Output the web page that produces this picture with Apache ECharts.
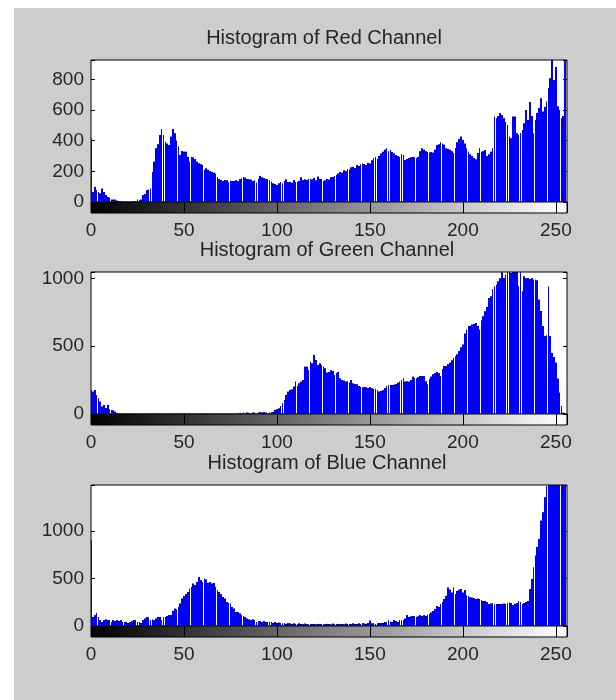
<!DOCTYPE html>
<html>
<head>
<meta charset="utf-8">
<title>RGB histograms</title>
<script src="https://cdn.jsdelivr.net/npm/echarts@6/dist/echarts.min.js"></script>
<style>
html, body { margin: 0; padding: 0; background: #fff; }
#frame { position: absolute; left: 14px; top: 8px; width: 602px; height: 692px; background: #cdcdcd; }
#chart { position: absolute; left: 0; top: 0; width: 616px; height: 700px; }
</style>
</head>
<body>
<div id="frame"></div>
<div id="chart"></div>
<script>
// panel titles
var titles = ['Histogram of Red Channel', 'Histogram of Green Channel', 'Histogram of Blue Channel'];

// pixel counts per intensity level 0..255
var redCounts = [
    414, 65, 98, 76, 65, 55, 87, 65, 44, 33, 28, 15, 15, 15, 8, 5,
    3, 2, 0, 0, 0, 0, 2, 3, 5, 15, 10, 15, 44, 50, 76, 80,
    87, 196, 262, 349, 375, 436, 475, 436, 392, 380, 370, 425, 475, 447, 400, 360,
    305, 331, 327, 327, 294, 262, 294, 290, 279, 262, 251, 245, 240, 207, 218, 210,
    200, 196, 190, 185, 163, 148, 142, 136, 142, 140, 131, 138, 136, 137, 140, 135,
    148, 153, 163, 158, 150, 147, 145, 135, 140, 125, 150, 170, 160, 155, 148, 150,
    140, 132, 120, 118, 109, 120, 131, 120, 137, 146, 128, 131, 125, 142, 131, 131,
    137, 159, 142, 146, 142, 150, 150, 146, 155, 140, 165, 150, 148, 135, 140, 150,
    145, 160, 163, 170, 175, 185, 196, 190, 205, 200, 215, 210, 225, 229, 220, 240,
    235, 245, 250, 248, 240, 255, 250, 270, 285, 294, 280, 300, 315, 327, 340, 349,
    330, 338, 325, 316, 305, 300, 294, 310, 305, 272, 280, 285, 290, 294, 290, 285,
    294, 330, 349, 340, 330, 325, 321, 325, 321, 340, 370, 375, 388, 380, 373, 349,
    345, 340, 330, 320, 350, 388, 410, 425, 403, 380, 349, 327, 310, 299, 285, 277,
    320, 349, 327, 330, 338, 299, 310, 327, 349, 556, 545, 560, 578, 565, 545, 520,
    501, 425, 414, 556, 556, 447, 436, 450, 468, 512, 600, 534, 650, 560, 447, 534,
    580, 611, 675, 589, 620, 654, 741, 806, 960, 795, 880, 622, 600, 545, 560, 980
];
var greenCounts = [
    175, 164, 176, 140, 115, 91, 54, 66, 42, 66, 34, 29, 25, 17, 5, 0,
    0, 0, 0, 0, 0, 0, 0, 0, 0, 0, 0, 0, 0, 0, 0, 0,
    0, 0, 0, 0, 0, 0, 0, 0, 0, 0, 0, 0, 0, 0, 0, 0,
    0, 0, 0, 0, 0, 0, 0, 0, 0, 0, 0, 0, 0, 0, 0, 0,
    0, 0, 0, 0, 0, 0, 0, 0, 0, 0, 0, 0, 0, 0, 0, 0,
    8, 0, 10, 0, 10, 8, 0, 10, 10, 0, 10, 12, 10, 12, 10, 0,
    10, 12, 15, 29, 34, 40, 59, 78, 103, 140, 164, 176, 180, 201, 238, 206,
    225, 238, 250, 348, 348, 323, 385, 372, 434, 397, 360, 372, 360, 348, 336, 304,
    310, 323, 315, 287, 300, 310, 262, 250, 245, 238, 240, 230, 250, 225, 220, 218,
    206, 200, 196, 198, 196, 190, 196, 189, 185, 181, 175, 164, 170, 175, 190, 206,
    210, 213, 213, 215, 220, 230, 238, 250, 262, 238, 240, 238, 250, 274, 265, 262,
    270, 279, 279, 279, 240, 218, 255, 275, 292, 300, 309, 300, 279, 330, 353, 353,
    365, 378, 395, 414, 425, 439, 463, 490, 512, 593, 622, 647, 650, 659, 665, 671,
    650, 622, 690, 720, 757, 790, 855, 867, 920, 941, 953, 978, 1000, 1044, 1002, 1027,
    1060, 1055, 1040, 1060, 1065, 1050, 941, 1060, 904, 1015, 1000, 1002, 995, 1002, 990, 990,
    985, 843, 760, 647, 573, 580, 940, 573, 451, 420, 378, 260, 157, 59, 10, 0
];
var blueCounts = [
    900, 95, 112, 137, 95, 60, 42, 60, 67, 60, 60, 42, 60, 52, 60, 52,
    60, 42, 42, 42, 32, 42, 49, 60, 60, 42, 42, 32, 60, 77, 95, 88,
    60, 67, 60, 77, 95, 95, 60, 88, 95, 102, 112, 112, 158, 182, 172, 200,
    235, 287, 312, 333, 357, 392, 410, 445, 427, 462, 515, 480, 462, 497, 487, 452,
    462, 445, 452, 410, 375, 357, 333, 305, 287, 252, 242, 235, 200, 182, 147, 147,
    130, 112, 102, 95, 77, 67, 60, 67, 60, 42, 52, 52, 42, 49, 42, 42,
    42, 42, 32, 42, 32, 35, 28, 25, 30, 22, 28, 25, 20, 26, 22, 18,
    25, 20, 18, 24, 20, 15, 22, 18, 20, 16, 22, 18, 20, 15, 18, 22,
    20, 16, 24, 20, 18, 22, 18, 20, 16, 24, 20, 22, 18, 25, 20, 22,
    25, 20, 28, 25, 22, 30, 55, 25, 28, 22, 26, 30, 28, 32, 42, 38,
    60, 45, 42, 60, 52, 42, 60, 55, 60, 77, 112, 95, 100, 102, 105, 95,
    100, 112, 102, 112, 105, 118, 125, 140, 158, 175, 210, 200, 228, 250, 280, 316,
    403, 380, 350, 403, 333, 368, 380, 386, 350, 375, 320, 316, 300, 298, 290, 280,
    285, 280, 270, 263, 263, 250, 228, 235, 238, 225, 228, 232, 230, 228, 235, 232,
    238, 245, 240, 220, 232, 240, 263, 250, 228, 240, 250, 260, 386, 491, 614, 737,
    830, 912, 1105, 1193, 1351, 1470, 1600, 1800, 2000, 2200, 2300, 2400, 2500, 2600, 2700, 3000
];

// axis settings per panel
var yMaxes = [926, 1048, 1481];
var ySteps = [200, 500, 500];
var xMax = 256;
var xStep = 50;

var FONT = "'Liberation Sans', Arial, sans-serif";
var TEXT = '#262626';
var panelTops = [60, 272, 485];
var panelHeights = [142, 142, 141];
var titleTops = [23, 235, 448];
var titleLefts = [319, 322, 322];
var BAR = 0.45; // half bar width, in bins

var chart = echarts.init(document.getElementById('chart'));

function renderBar(params, api) {
    var x = api.value(0), y = api.value(1);
    var cs = params.coordSys;
    if (!(y > 0)) return;
    var lo = api.coord([x - BAR, 0]);
    var hi = api.coord([x + BAR, y]);
    var left = Math.max(Math.round(lo[0]), cs.x);
    var right = Math.min(Math.round(hi[0]), cs.x + cs.width);
    var top = Math.max(hi[1], cs.y);
    var bottom = lo[1];
    if (right <= left || bottom - top <= 0) return;
    return {
        type: 'group',
        children: [
            { type: 'rect', shape: { x: left, y: top, width: right - left, height: bottom - top },
              style: { fill: '#0000ff' } },
            { type: 'line', shape: { x1: left, y1: top + 0.5, x2: right, y2: top + 0.5 },
              style: { stroke: '#000078', lineWidth: 1 } }
        ]
    };
}

function multipleOf(step) {
    return function (v) { return v % step === 0 ? String(v) : ''; };
}

var channels = [redCounts, greenCounts, blueCounts];
var grids = [], xAxes = [], yAxes = [], series = [], titleList = [];

for (var k = 0; k < 3; k++) {
    titleList.push({
        text: titles[k], left: titleLefts[k], top: titleTops[k], textAlign: 'center',
        textStyle: { fontSize: 20, fontWeight: 'normal', color: TEXT, fontFamily: FONT }
    });

    // histogram area
    grids.push({
        left: 91, right: 49, top: panelTops[k], height: panelHeights[k],
        show: true, backgroundColor: '#fff', borderColor: '#000', borderWidth: 1
    });
    // grey ramp under it
    grids.push({
        left: 91, right: 49, top: panelTops[k] + panelHeights[k], height: 11,
        show: true, borderColor: '#000', borderWidth: 1,
        backgroundColor: new echarts.graphic.LinearGradient(0, 0, 1, 0, [
            { offset: 0, color: '#000' },
            { offset: 255 / 256, color: '#fff' },
            { offset: 1, color: '#fff' }
        ])
    });

    xAxes.push({
        type: 'value', gridIndex: 2 * k, min: 0, max: xMax, interval: xStep, position: 'top',
        axisLine: { show: false },
        axisTick: { inside: true, length: 4, lineStyle: { color: '#000' } },
        axisLabel: { show: false }, splitLine: { show: false }
    });
    xAxes.push({
        type: 'value', gridIndex: 2 * k + 1, min: 0, max: xMax, interval: xStep, position: 'bottom',
        axisLine: { show: false },
        axisTick: { inside: true, length: 11, lineStyle: { color: '#000' } },
        axisLabel: { fontSize: 19, color: TEXT, fontFamily: FONT, margin: 8, formatter: multipleOf(xStep) },
        splitLine: { show: false }
    });

    yAxes.push({
        type: 'value', gridIndex: 2 * k, min: 0, max: yMaxes[k], interval: ySteps[k], position: 'left',
        axisLine: { show: false },
        axisTick: { inside: true, length: 4, lineStyle: { color: '#000' } },
        axisLabel: { fontSize: 19, color: TEXT, fontFamily: FONT, margin: 7, formatter: multipleOf(ySteps[k]) },
        splitLine: { show: false }
    });
    yAxes.push({
        type: 'value', gridIndex: 2 * k, min: 0, max: yMaxes[k], interval: ySteps[k], position: 'right',
        axisLine: { show: false },
        axisTick: { inside: true, length: 4, lineStyle: { color: '#000' } },
        axisLabel: { show: false }, splitLine: { show: false }
    });
    yAxes.push({ type: 'value', gridIndex: 2 * k + 1, min: 0, max: 1, show: false });

    series.push({
        type: 'custom', name: titles[k], xAxisIndex: 2 * k, yAxisIndex: 3 * k,
        renderItem: renderBar, silent: true, animation: false,
        data: channels[k].map(function (c, i) { return [i, c]; })
    });
}

chart.setOption({
    backgroundColor: 'transparent',
    animation: false,
    title: titleList,
    grid: grids,
    xAxis: xAxes,
    yAxis: yAxes,
    series: series
});
</script>
</body>
</html>
